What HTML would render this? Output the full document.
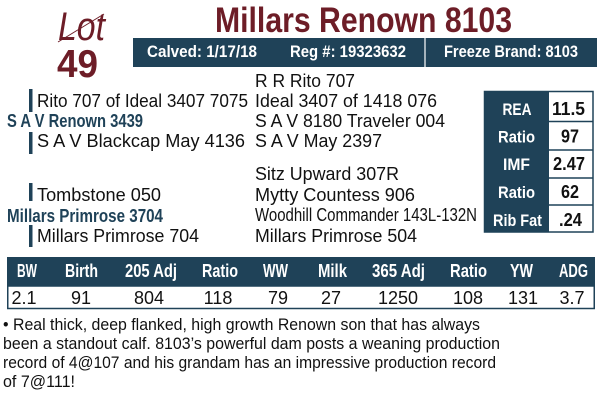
<!DOCTYPE html>
<html><head><meta charset="utf-8"><style>
html,body{margin:0;padding:0;background:#fff;}
svg{display:block;}
text{font-family:"Liberation Sans",Arial,sans-serif;}
</style></head><body>
<svg width="602" height="401" viewBox="0 0 602 401" xmlns="http://www.w3.org/2000/svg">
<rect width="602" height="401" fill="#fff"/>
<!-- Lot 49 -->
<text x="58" y="40" font-family="Liberation Serif, serif" font-style="italic" font-size="40" fill="#6d1d27" textLength="47" lengthAdjust="spacingAndGlyphs">Lot</text>
<line x1="58" y1="42" x2="104" y2="14" stroke="#6d1d27" stroke-width="1"/>
<text x="57" y="77" font-size="39" font-weight="bold" fill="#6d1d27" textLength="41" lengthAdjust="spacingAndGlyphs">49</text>
<!-- Title -->
<text x="215" y="32" font-size="35" font-weight="bold" fill="#6d1d27" textLength="297" lengthAdjust="spacingAndGlyphs">Millars Renown 8103</text>
<!-- header bar -->
<rect x="133" y="38" width="464" height="29" fill="#1f4258"/>
<line x1="425" y1="38" x2="425" y2="67" stroke="#fff" stroke-width="1.2"/>
<g fill="#fff" font-weight="bold" font-size="17">
<text x="147" y="57" textLength="110" lengthAdjust="spacingAndGlyphs">Calved: 1/17/18</text>
<text x="290" y="57" textLength="116" lengthAdjust="spacingAndGlyphs">Reg #: 19323632</text>
<text x="444" y="57" textLength="134" lengthAdjust="spacingAndGlyphs">Freeze Brand: 8103</text>
</g>
<!-- pedigree bars -->
<g fill="#1f4258">
<rect x="29" y="89" width="3.5" height="23"/>
<rect x="29" y="132" width="3.5" height="22"/>
<rect x="29" y="183" width="3.5" height="18"/>
<rect x="29" y="225" width="3.5" height="22"/>
</g>
<!-- pedigree text -->
<g font-size="18" fill="#111">
<text x="255" y="87" textLength="100" lengthAdjust="spacingAndGlyphs">R R Rito 707</text>
<text x="37" y="107" textLength="211" lengthAdjust="spacingAndGlyphs">Rito 707 of Ideal 3407 7075</text>
<text x="255" y="107" textLength="182" lengthAdjust="spacingAndGlyphs">Ideal 3407 of 1418 076</text>
<text x="255" y="127" textLength="190" lengthAdjust="spacingAndGlyphs">S A V 8180 Traveler 004</text>
<text x="37" y="147" textLength="208" lengthAdjust="spacingAndGlyphs">S A V Blackcap May 4136</text>
<text x="255" y="147" textLength="127" lengthAdjust="spacingAndGlyphs">S A V May 2397</text>
<text x="255" y="180" textLength="144" lengthAdjust="spacingAndGlyphs">Sitz Upward 307R</text>
<text x="37" y="201" textLength="124" lengthAdjust="spacingAndGlyphs">Tombstone 050</text>
<text x="255" y="201" textLength="160" lengthAdjust="spacingAndGlyphs">Mytty Countess 906</text>
<text x="255" y="221" textLength="222" lengthAdjust="spacingAndGlyphs">Woodhill Commander 143L-132N</text>
<text x="37" y="242" textLength="162" lengthAdjust="spacingAndGlyphs">Millars Primrose 704</text>
<text x="255" y="242" textLength="162" lengthAdjust="spacingAndGlyphs">Millars Primrose 504</text>
</g>
<g font-size="18" font-weight="bold" fill="#1f4258">
<text x="7" y="127" textLength="136" lengthAdjust="spacingAndGlyphs">S A V Renown 3439</text>
<text x="7" y="222" textLength="156" lengthAdjust="spacingAndGlyphs">Millars Primrose 3704</text>
</g>
<!-- carcass table -->
<rect x="484" y="91" width="65" height="141" fill="#1f4258"/>
<rect x="484.5" y="91.5" width="108.5" height="140.5" fill="none" stroke="#1f4258" stroke-width="1.5"/>
<g stroke="#1f4258" stroke-width="1.5">
<line x1="549" y1="121.5" x2="593" y2="121.5"/>
<line x1="549" y1="150" x2="593" y2="150"/>
<line x1="549" y1="178" x2="593" y2="178"/>
<line x1="549" y1="205" x2="593" y2="205"/>
</g>
<g font-size="17" font-weight="bold" fill="#fff" text-anchor="middle">
<text x="517" y="115" textLength="29" lengthAdjust="spacingAndGlyphs">REA</text>
<text x="516.5" y="142.5" textLength="37" lengthAdjust="spacingAndGlyphs">Ratio</text>
<text x="516.5" y="170" textLength="27" lengthAdjust="spacingAndGlyphs">IMF</text>
<text x="516.5" y="198" textLength="37" lengthAdjust="spacingAndGlyphs">Ratio</text>
<text x="517.5" y="226" textLength="49" lengthAdjust="spacingAndGlyphs">Rib Fat</text>
</g>
<g font-size="18" font-weight="bold" fill="#111" text-anchor="middle">
<text x="568.5" y="115" textLength="33" lengthAdjust="spacingAndGlyphs">11.5</text>
<text x="570" y="142.5" textLength="18" lengthAdjust="spacingAndGlyphs">97</text>
<text x="569" y="170" textLength="32" lengthAdjust="spacingAndGlyphs">2.47</text>
<text x="570" y="198" textLength="18" lengthAdjust="spacingAndGlyphs">62</text>
<text x="570.5" y="226" textLength="23" lengthAdjust="spacingAndGlyphs">.24</text>
</g>
<!-- stats table -->
<rect x="7" y="257" width="588" height="29" fill="#1f4258"/>
<rect x="7.75" y="286" width="586.5" height="22.5" fill="none" stroke="#1f4258" stroke-width="1.5"/>
<g font-size="18" font-weight="bold" fill="#fff" text-anchor="middle">
<text x="27" y="277" textLength="20" lengthAdjust="spacingAndGlyphs">BW</text>
<text x="81.5" y="277" textLength="33" lengthAdjust="spacingAndGlyphs">Birth</text>
<text x="151" y="277" textLength="52" lengthAdjust="spacingAndGlyphs">205 Adj</text>
<text x="220" y="277" textLength="36" lengthAdjust="spacingAndGlyphs">Ratio</text>
<text x="275.5" y="277" textLength="25" lengthAdjust="spacingAndGlyphs">WW</text>
<text x="332.5" y="277" textLength="29" lengthAdjust="spacingAndGlyphs">Milk</text>
<text x="398.5" y="277" textLength="53" lengthAdjust="spacingAndGlyphs">365 Adj</text>
<text x="468.5" y="277" textLength="37" lengthAdjust="spacingAndGlyphs">Ratio</text>
<text x="521.5" y="277" textLength="23" lengthAdjust="spacingAndGlyphs">YW</text>
<text x="573.5" y="277" textLength="29" lengthAdjust="spacingAndGlyphs">ADG</text>
</g>
<g font-size="18" fill="#111" text-anchor="middle">
<text x="24" y="304">2.1</text>
<text x="81" y="304">91</text>
<text x="149" y="304">804</text>
<text x="218" y="304">118</text>
<text x="278" y="304">79</text>
<text x="331" y="304">27</text>
<text x="398" y="304">1250</text>
<text x="468" y="304">108</text>
<text x="523" y="304">131</text>
<text x="572" y="304">3.7</text>
</g>
<!-- description -->
<g font-size="17" fill="#111">
<text x="3" y="330" textLength="477" lengthAdjust="spacingAndGlyphs">• Real thick, deep flanked, high growth Renown son that has always</text>
<text x="3" y="349" textLength="497" lengthAdjust="spacingAndGlyphs">been a standout calf. 8103’s powerful dam posts a weaning production</text>
<text x="3" y="368" textLength="493" lengthAdjust="spacingAndGlyphs">record of 4@107 and his grandam has an impressive production record</text>
<text x="3" y="387" textLength="72" lengthAdjust="spacingAndGlyphs">of 7@111!</text>
</g>
</svg>
</body></html>
